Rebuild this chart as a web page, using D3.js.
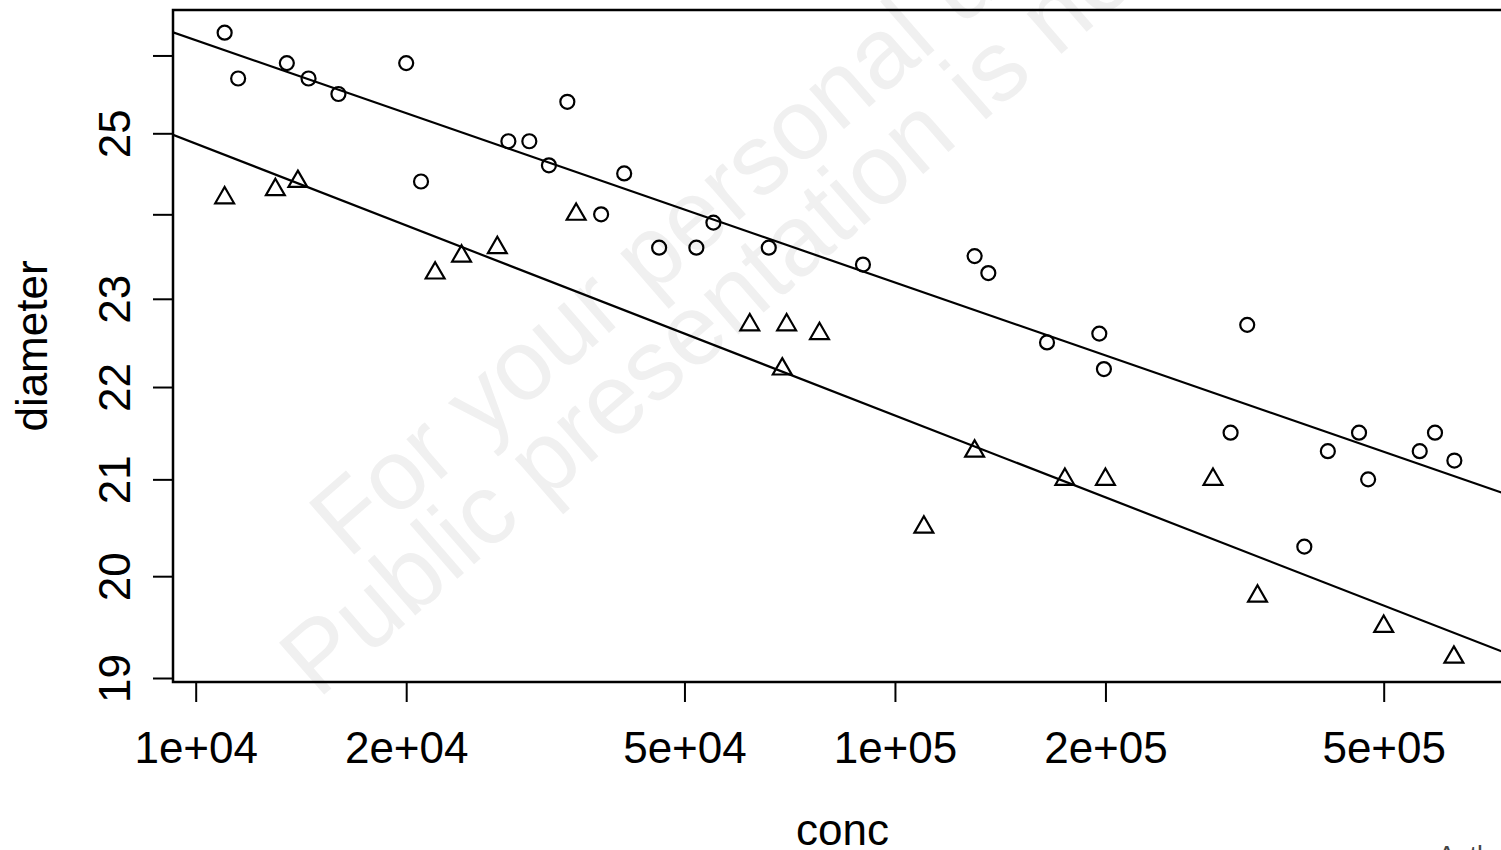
<!DOCTYPE html>
<html>
<head>
<meta charset="utf-8">
<script src="https://cdn.jsdelivr.net/npm/d3@7"></script>
<style>
  html, body { margin: 0; padding: 0; background: #ffffff; }
  text { font-family: "Liberation Sans", Arial, sans-serif; }
</style>
</head>
<body>
<div id="chart"></div>
<script>
// cells grown with glucose (circles)
var glucoseConc = [11000, 11500, 13500, 14500, 16000, 20000, 21000, 28000, 30000, 32000, 34000,
  38000, 41000, 46000, 52000, 55000, 66000, 90000, 130000, 136000, 165000, 196000, 199000,
  302000, 319000, 385000, 416000, 461000, 475000, 563000, 592000, 631000];
var glucoseDiam = [26.3, 25.7, 25.9, 25.7, 25.5, 25.9, 24.4, 24.9, 24.9, 24.6, 25.4,
  24.0, 24.5, 23.6, 23.6, 23.9, 23.6, 23.4, 23.5, 23.3, 22.5, 22.6, 22.2,
  21.5, 22.7, 20.3, 21.3, 21.5, 21.0, 21.3, 21.5, 21.2];

// cells grown without glucose (triangles)
var noGlucoseConc = [11000, 13000, 14000, 22000, 24000, 27000, 35000, 62000, 69000, 70000,
  78000, 110000, 130000, 175000, 200000, 285000, 330000, 500000, 630000];
var noGlucoseDiam = [24.2, 24.3, 24.4, 23.3, 23.5, 23.6, 24.0, 22.7, 22.2, 22.7,
  22.6, 20.5, 21.3, 21.0, 21.0, 21.0, 19.8, 19.5, 19.2];

// log10(diameter) = a + b * log10(conc)
var fitIntercepts = [1.6303, 1.6337];
var fitSlopes = [-0.0530, -0.0595];

var xTicks = [1e4, 2e4, 5e4, 1e5, 2e5, 5e5];
var xTickLabels = ["1e+04", "2e+04", "5e+04", "1e+05", "2e+05", "5e+05"];
var yTicks = [19, 20, 21, 22, 23, 24, 25, 26];
var yTickLabels = ["19", "20", "21", "22", "23", "", "25", ""];

var width = 1501, height = 850;
var box = {left: 173, top: 10, right: 1512, bottom: 682};

var svg = d3.select("#chart")
  .append("svg")
  .attr("width", width)
  .attr("height", height);

// watermark
var wm = svg.append("g")
  .attr("fill", "#f0f0f0")
  .style("font-size", "100px");
wm.append("text")
  .attr("transform", "translate(348,560) rotate(-41)")
  .text("For your personal use only.");
wm.append("text")
  .attr("transform", "translate(318,700) rotate(-41)")
  .text("Public presentation is not permitted.");

var x = d3.scaleLog()
  .domain([1e4, 5e5])
  .range([195.7, 1383.7]);

var y = d3.scaleLog()
  .domain([19, 25])
  .range([678, 133.3]);

svg.append("defs").append("clipPath")
  .attr("id", "plotclip")
  .append("rect")
  .attr("x", box.left)
  .attr("y", box.top)
  .attr("width", box.right - box.left)
  .attr("height", box.bottom - box.top);

// axes, R style: ticks outward, labels at a distance
var xAxis = d3.axisBottom(x)
  .tickValues(xTicks)
  .tickSize(20)
  .tickPadding(30)
  .tickFormat(function(d, i) { return xTickLabels[i]; });

var gx = svg.append("g")
  .attr("transform", "translate(0," + box.bottom + ")")
  .call(xAxis);
gx.select(".domain").remove();
gx.selectAll(".tick line").attr("stroke", "#000").attr("stroke-width", 2);
gx.selectAll(".tick text")
  .attr("fill", "#000")
  .style("font-size", "44px")
  .style("font-family", "'Liberation Sans', Arial, sans-serif");

var yAxis = d3.axisLeft(y)
  .tickValues(yTicks)
  .tickSize(20)
  .tickPadding(0)
  .tickFormat(function(d, i) { return yTickLabels[i]; });

var gy = svg.append("g")
  .attr("transform", "translate(" + box.left + ",0)")
  .call(yAxis);
gy.select(".domain").remove();
gy.selectAll(".tick line").attr("stroke", "#000").attr("stroke-width", 2);
gy.selectAll(".tick text")
  .attr("fill", "#000")
  .attr("x", 0)
  .attr("dy", 0)
  .attr("transform", "translate(-43,0) rotate(-90)")
  .attr("text-anchor", "middle")
  .style("font-size", "44px")
  .style("font-family", "'Liberation Sans', Arial, sans-serif");

// axis titles
svg.append("text")
  .attr("x", (box.left + box.right) / 2)
  .attr("y", 845)
  .attr("text-anchor", "middle")
  .style("font-size", "44px")
  .text("conc");

svg.append("text")
  .attr("transform", "translate(47," + (box.top + box.bottom) / 2 + ") rotate(-90)")
  .attr("text-anchor", "middle")
  .style("font-size", "44px")
  .text("diameter");

var plot = svg.append("g").attr("clip-path", "url(#plotclip)");

// fitted lines
var xEnds = [x.invert(box.left), x.invert(box.right)];
fitIntercepts.forEach(function(a, i) {
  var b = fitSlopes[i];
  var pts = xEnds.map(function(c) { return [c, Math.pow(10, a + b * Math.log10(c))]; });
  plot.append("line")
    .attr("x1", x(pts[0][0]))
    .attr("y1", y(pts[0][1]))
    .attr("x2", x(pts[1][0]))
    .attr("y2", y(pts[1][1]))
    .attr("stroke", "#000")
    .attr("stroke-width", 2.2);
});

plot.selectAll("circle.gluc")
  .data(glucoseConc)
  .enter().append("circle")
  .attr("class", "gluc")
  .attr("cx", function(d) { return x(d); })
  .attr("cy", function(d, i) { return y(glucoseDiam[i]); })
  .attr("r", 7)
  .attr("fill", "none")
  .attr("stroke", "#000")
  .attr("stroke-width", 2.2);

var tri = d3.symbol().type(d3.symbolTriangle).size(154);
plot.selectAll("path.nogluc")
  .data(noGlucoseConc)
  .enter().append("path")
  .attr("class", "nogluc")
  .attr("d", tri)
  .attr("transform", function(d, i) { return "translate(" + x(d) + "," + y(noGlucoseDiam[i]) + ")"; })
  .attr("fill", "none")
  .attr("stroke", "#000")
  .attr("stroke-width", 2.2);

// frame
svg.append("rect")
  .attr("x", box.left)
  .attr("y", box.top)
  .attr("width", box.right - box.left)
  .attr("height", box.bottom - box.top)
  .attr("fill", "none")
  .attr("stroke", "#000")
  .attr("stroke-width", 2.5);

svg.append("text")
  .attr("x", 1438)
  .attr("y", 864)
  .attr("fill", "#444")
  .style("font-size", "26px")
  .text("Author");
</script>
</body>
</html>
